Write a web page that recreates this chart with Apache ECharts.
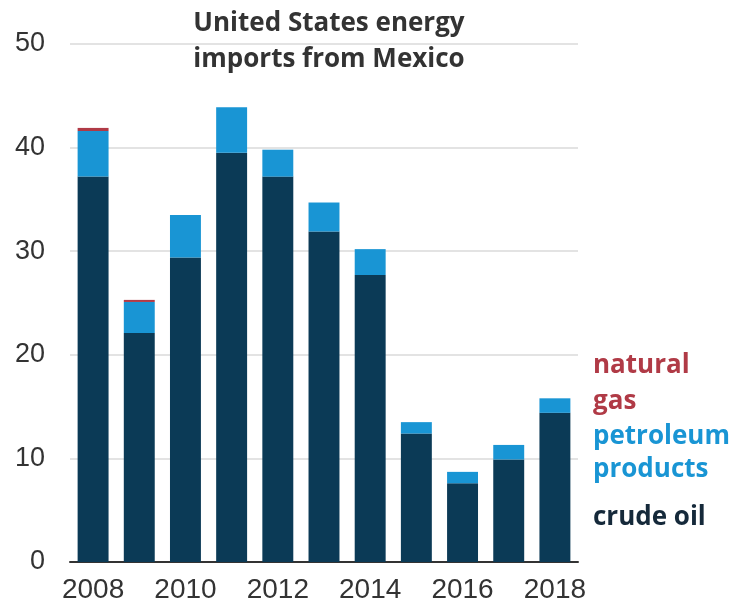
<!DOCTYPE html>
<html><head><meta charset="utf-8">
<script src="https://cdn.jsdelivr.net/npm/echarts@6/dist/echarts.min.js"></script>
<style>html,body{margin:0;padding:0;background:#fff}#c{width:738px;height:609px}</style>
</head><body><div id="c"></div>
<script>
const years = ['2008','2009','2010','2011','2012','2013','2014','2015','2016','2017','2018'];
const crudeOil = [37.2, 22.1, 29.4, 39.5, 37.2, 31.9, 27.7, 12.4, 7.6, 9.9, 14.4];
const petroleumProducts = [4.4, 3.0, 4.1, 4.4, 2.6, 2.8, 2.5, 1.1, 1.1, 1.4, 1.4];
const naturalGas = [0.3, 0.2, 0, 0, 0, 0, 0, 0, 0, 0, 0];
const yTicks = [0, 10, 20, 30, 40, 50];

const C_CRUDE = '#0b3a56', C_PET = '#1995d4', C_GAS = '#b03a46';
const chart = echarts.init(document.getElementById('c'), null, {renderer:'canvas'});
const boldFont = '"Open Sans", "Noto Sans", sans-serif';
chart.setOption({
  animation:false,
  grid:{left:70, right:160, top:44, bottom:47},
  title:{text:'United States energy\nimports from Mexico', left:324, top:1, textAlign:'center',
    textStyle:{fontFamily:boldFont, fontWeight:'bold', fontSize:26, lineHeight:36, color:'#333'}},
  xAxis:{type:'category', data:years,
    axisLine:{lineStyle:{color:'#333', width:2}}, axisTick:{show:false},
    axisLabel:{interval:1, fontFamily:'"Liberation Sans", Arial, sans-serif', fontSize:28, color:'#333', margin:14}},
  yAxis:{type:'value', min:yTicks[0], max:yTicks[yTicks.length-1], interval:10,
    axisLine:{show:false}, axisTick:{show:false},
    splitLine:{lineStyle:{color:'#dadada', width:1.5}},
    axisLabel:{fontFamily:'"Liberation Sans", Arial, sans-serif', fontSize:27, color:'#333', margin:25}},
  series:[
    {name:'crude oil', type:'bar', stack:'t', data:crudeOil, itemStyle:{color:C_CRUDE}, barCategoryGap:'33%'},
    {name:'petroleum products', type:'bar', stack:'t', data:petroleumProducts, itemStyle:{color:C_PET}},
    {name:'natural gas', type:'bar', stack:'t', data:naturalGas, itemStyle:{color:C_GAS}}
  ],
  graphic:[
    {type:'text', left:593, top:348, style:{text:'natural\ngas', font:'bold 26px '+boldFont, lineHeight:36, fill:C_GAS}},
    {type:'text', left:593, top:420, style:{text:'petroleum\nproducts', font:'bold 26px '+boldFont, lineHeight:33, fill:C_PET}},
    {type:'text', left:593, top:501, style:{text:'crude oil', font:'bold 26px '+boldFont, lineHeight:34, fill:'#15293a'}}
  ]
});
</script></body></html>
